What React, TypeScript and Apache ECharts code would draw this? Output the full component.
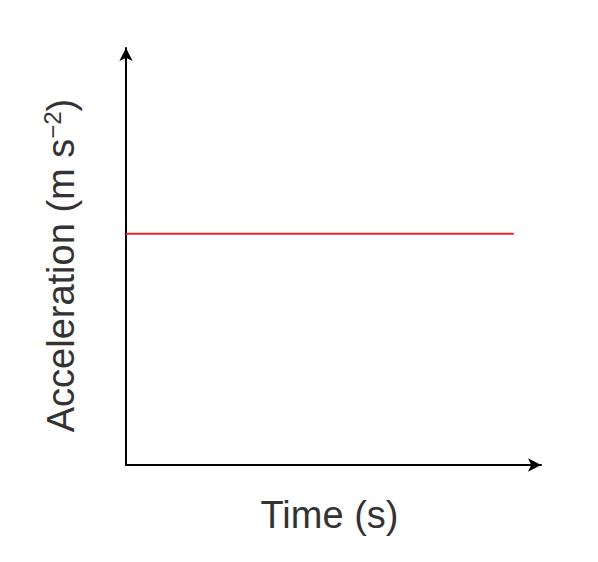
import React, { useEffect, useRef } from "react";
import * as echarts from "echarts";

const timeValues = [0, 10];
const accelerationValues = [5, 5];
const xAxisMax = 10.7;
const yAxisMax = 9.02;
const xAxisTitle = "Time (s)";
const yAxisTitleMain = "Acceleration (m s";
const yAxisTitleSup = "−2";

export default function App() {
  const ref = useRef<HTMLDivElement>(null);
  useEffect(() => {
    if (!ref.current) return;
    const chart = echarts.init(ref.current, null, { renderer: "svg" });
    const font = "'Liberation Sans', Arial, Helvetica, sans-serif";
    const axisLine = {
      show: true,
      symbol: ["none", "arrow"],
      symbolSize: [10, 13],
      lineStyle: { color: "#000", width: 2 },
    };
    chart.setOption({
      animation: false,
      backgroundColor: "#fff",
      grid: { left: 126, right: 57, top: 48, bottom: 97, containLabel: false },
      xAxis: {
        type: "value",
        min: 0,
        max: xAxisMax,
        axisLine,
        axisTick: { show: false },
        axisLabel: { show: false },
        splitLine: { show: false },
        name: xAxisTitle,
        nameLocation: "middle",
        nameGap: 31,
        nameTextStyle: {
          fontFamily: font,
          fontSize: 38,
          color: "#333",
          verticalAlign: "top",
          padding: [0, 8, 0, 0],
        },
      },
      yAxis: {
        type: "value",
        min: 0,
        max: yAxisMax,
        axisLine,
        axisTick: { show: false },
        axisLabel: { show: false },
        splitLine: { show: false },
        name: "{a|" + yAxisTitleMain + "}{s|" + yAxisTitleSup + "}{e|)}",
        nameLocation: "middle",
        nameRotate: 90,
        nameGap: 44,
        nameTextStyle: {
          fontFamily: font,
          color: "#333",
          rich: {
            a: { fontFamily: font, fontSize: 38, color: "#333", lineHeight: 42 },
            s: { fontFamily: font, fontSize: 24, color: "#333", verticalAlign: "top", lineHeight: 42 },
            e: { fontFamily: font, fontSize: 38, color: "#333", lineHeight: 42, padding: [0, 18, 0, 0] },
          },
        },
      },
      series: [
        {
          type: "line",
          data: timeValues.map((t, i) => [t, accelerationValues[i]]),
          symbol: "none",
          lineStyle: { color: "#e8252f", width: 2 },
        },
      ],
    });
    return () => chart.dispose();
  }, []);
  return (
    <div
      ref={ref}
      style={{ position: "absolute", left: 0, top: 0, width: 598, height: 562 }}
    />
  );
}
